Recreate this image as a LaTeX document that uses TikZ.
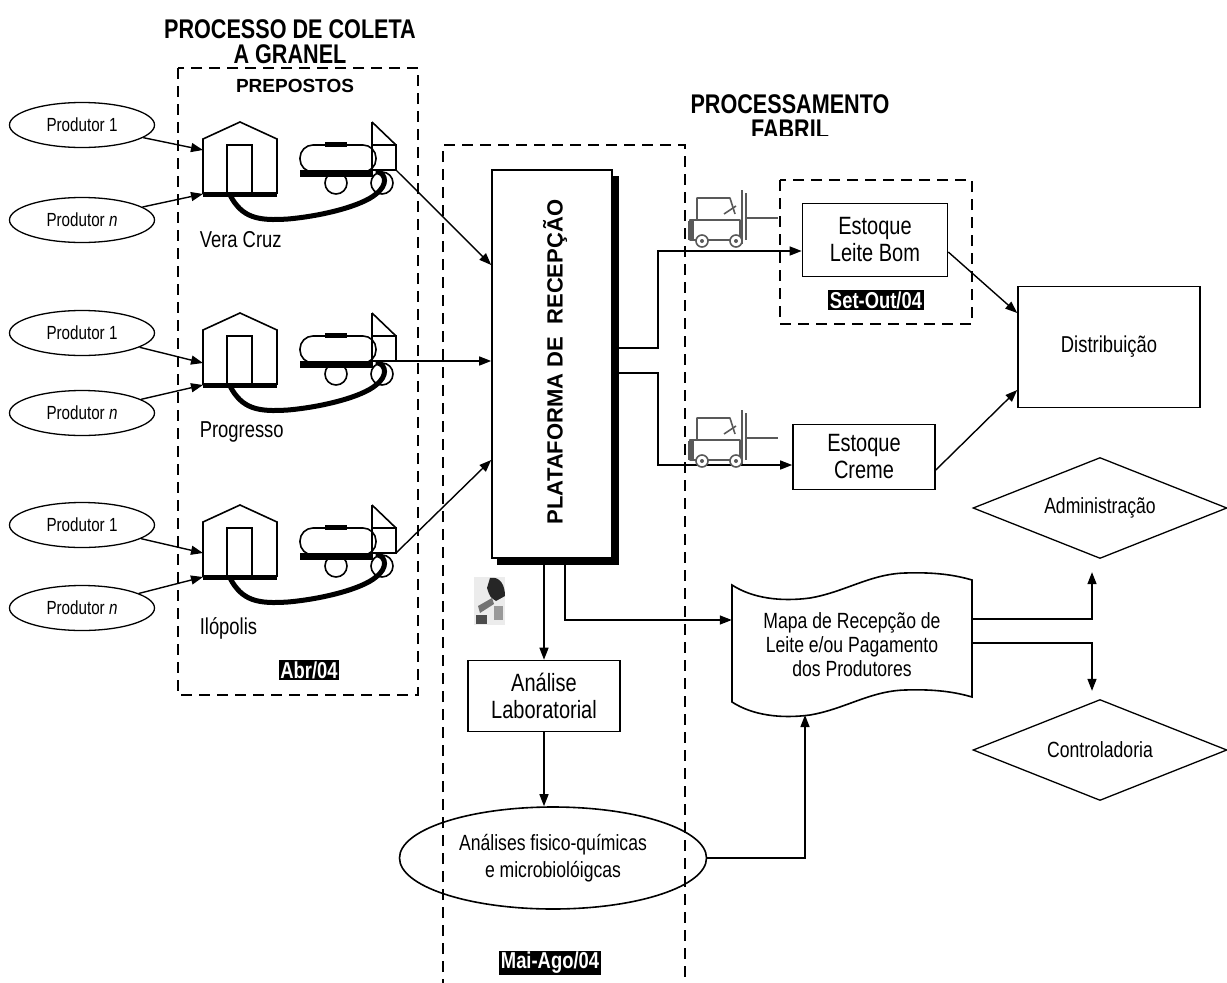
\documentclass[tikz,border=0pt]{standalone}
\usepackage{fontspec}
\setmainfont{Liberation Sans}[FakeStretch=0.8]
\newfontfamily\plainsans{Liberation Sans}
\usetikzlibrary{arrows.meta,shapes.geometric,positioning}

\tikzset{
  flow/.style={-{Triangle[length=12pt,width=9pt]}, line width=1.4pt},
  zone/.style={line width=1.8pt, dash pattern=on 11pt off 7pt},
  prod/.style={ellipse, draw, line width=1.3pt, minimum width=145pt, minimum height=45pt,
    inner sep=0pt, font=\fontsize{19}{21}\selectfont},
  proc/.style={rectangle, draw, line width=1.6pt, inner sep=0pt, align=center,
    font=\fontsize{25}{27}\selectfont},
  datetag/.style={fill=black, text=white, inner sep=1.5pt, font=\bfseries\fontsize{23}{25}\selectfont},
  heading/.style={font=\bfseries\fontsize{27}{25}\selectfont, align=center, inner sep=0pt},
  town/.style={anchor=west, inner sep=0pt, font=\fontsize{23}{25}\selectfont},
  thickbar/.style={line width=5pt},
  lift/.style={black!65, line width=1.6pt, line join=round},
  ctrlbox/.style={diamond, draw, line width=1.3pt, aspect=2.5, minimum width=254pt,
    minimum height=101pt, inner sep=0pt, font=\fontsize{22}{24}\selectfont},
}

\begin{document}
\begin{tikzpicture}[x=1pt,y=-1pt]
\useasboundingbox (0,0) rectangle (1227,983);

% titles
\node[heading] (coleta) at (290,42) {PROCESSO DE COLETA\\A GRANEL};
\node[font=\plainsans\bfseries\fontsize{19}{21}\selectfont] (prepostos) at (295,86) {PREPOSTOS};
\begin{scope}
  \clip (680,80) rectangle (900,135);
  \node[heading] (fabril) at (790,117) {PROCESSAMENTO\\FABRIL};
\end{scope}

% producers
\node[prod] (pa1) at (82,125) {Produtor 1};
\node[prod] (pn1) at (82,220) {Produtor \textit{n}};
\node[prod] (pa2) at (82,333) {Produtor 1};
\node[prod] (pn2) at (82,413) {Produtor \textit{n}};
\node[prod] (pa3) at (82,525) {Produtor 1};
\node[prod] (pn3) at (82,608) {Produtor \textit{n}};

% collecting posts: house, tank truck and hose
\foreach \g/\hy/\ay/\town/\ty in {1/122/28/Vera Cruz/240, 2/313/50/Progresso/432, 3/505/48/Ilópolis/628} {
  \begin{scope}[shift={(0,\hy)}, line width=1.6pt]
    \draw (203,17) -- (240,0) -- (277,17) -- (277,71) -- (203,71) -- cycle;
    \draw (227,71) -- (227,23) -- (252,23) -- (252,71);
    \draw[thickbar] (203,72) -- (277,72);
    \draw[rounded corners=13pt] (300,23) rectangle (376,50);
    \fill (300,48) rectangle (373,55);
    \fill (325,20) rectangle (347,25);
    \draw (336,61) circle (11pt);
    \draw (382,61) circle (11pt);
    \draw (372,0) -- (372,48) -- (396,48) -- (396,23) -- (372,23);
    \draw (372,0) -- (396,23);
    \draw[thickbar, line cap=round] (230,73) .. controls (242,96) and (258,99) .. (288,97)
      .. controls (322,94) and (362,84) .. (376,72) .. controls (388,63) and (386,52) .. (378,50);
    \coordinate (hin\g) at (203,\ay);
    \coordinate (hbase\g) at (203,72);
    \coordinate (cab\g) at (396,48);
    \node[town] (town\g) at (199,\ty-\hy) {\town};
  \end{scope}
  \draw[flow] (pa\g) -- (hin\g);
  \draw[flow] (pn\g) -- (hbase\g);
}

% reception platform
\fill (612,176) rectangle (619,565);
\fill (497,558) rectangle (619,565);
\node[draw, fill=white, line width=1.6pt, minimum width=120pt, minimum height=388pt, inner sep=0pt]
  (plat) at (552,364) {};
\node[rotate=90, font=\plainsans\bfseries\fontsize{22}{24}\selectfont] (platlabel) at (555,362)
  {PLATAFORMA DE\ \ RECEPÇÃO};

\draw[flow] (cab1) -- ([yshift=99pt]plat.west);
\draw[flow] (cab2) -- ([yshift=3pt]plat.west);
\draw[flow] (cab3) -- ([yshift=-96pt]plat.west);

% stock, distribution
\node[proc, minimum width=145pt, minimum height=73pt] (leite) at (875,240) {Estoque\\Leite Bom};
\node[proc, minimum width=142pt, minimum height=65pt] (creme) at (864,457) {Estoque\\Creme};
\node[proc, minimum width=182pt, minimum height=121pt, font=\fontsize{23}{25}\selectfont]
  (dist) at (1109,347) {Distribuição};

\draw[flow] ([yshift=16pt]plat.east) -- ++(45,0) |- ([yshift=-11pt]leite.west);
\draw[flow] ([yshift=-9pt]plat.east) -- ++(45,0) |- ([yshift=-8pt]creme.west);
\draw[flow] ([yshift=-12pt]leite.east) -- ([yshift=34pt]dist.west);
\draw[flow] ([yshift=-13pt]creme.east) -- ([yshift=-43pt]dist.west);

% forklifts
\foreach \fy in {190,410} {
  \begin{scope}[shift={(688,\fy)}]
    \draw[lift] (54,0) -- (54,54);
    \draw[lift] (58,3) -- (58,50);
    \draw[lift] (58,28) -- (90,28);
    \draw[lift] (9,30) -- (9,8) -- (42,8) -- (47,24);
    \draw[lift] (36,24) -- (48,16);
    \draw[lift] (2,30) -- (52,30) -- (52,50) -- (2,50) -- cycle;
    \fill[black!65] (0,31) rectangle (6,50);
    \draw[lift, fill=white] (14,51) circle (6pt);
    \draw[lift, fill=white] (48,51) circle (6pt);
    \fill[black!65] (14,51) circle (2pt) (48,51) circle (2pt);
  \end{scope}
}

% laboratory
\fill[gray!15] (474,577) rectangle (505,625);
\fill[black!85] (490,578) .. controls (500,576) and (505,585) .. (505,596) -- (496,601)
  .. controls (490,597) .. (487,588) -- cycle;
\fill[black!55] (478,606) -- (492,598) -- (494,604) -- (480,613) -- cycle;
\fill[black!70] (476,615) rectangle (487,624);
\fill[black!40] (494,606) rectangle (503,620);

\node[proc, minimum width=152pt, minimum height=71pt] (lab) at (544,696) {Análise\\Laboratorial};
\node[ellipse, draw, line width=1.6pt, minimum width=307pt, minimum height=102pt, inner sep=0pt,
  align=center, font=\fontsize{22}{27}\selectfont] (ana) at (553,858)
  {Análises fisico-químicas\\e microbiolóigcas};

\draw[flow] (lab.north |- plat.south) -- (lab.north);
\draw[flow] (lab.south) -- (lab.south |- ana.north);

% payment map
\node[align=center, minimum width=240pt, minimum height=117pt, inner sep=0pt,
  font=\fontsize{22}{24}\selectfont] (mapa) at (852,645)
  {Mapa de Recepção de\\Leite e/ou Pagamento\\dos Produtores};
\draw[line width=1.6pt] (732,702) -- (732,585)
  .. controls (752,598) and (780,602) .. (810,598) .. controls (845,592) and (870,574) .. (905,573)
  .. controls (935,572) and (955,575) .. (972,580) -- (972,697)
  .. controls (955,692) and (935,689) .. (905,690) .. controls (870,691) and (845,709) .. (810,715)
  .. controls (780,719) and (752,715) .. (732,702) -- cycle;
\coordinate (mapabot) at (805,715);

\draw[flow] ([xshift=13pt]plat.south) |- ([yshift=25pt]mapa.west);
\draw[flow] (ana.east) -| (mapabot);

% management
\node[ctrlbox] (admin) at (1100,508) {Administração};
\node[ctrlbox] (ctrl) at (1100,750) {Controladoria};
\draw[flow] ([yshift=26pt]mapa.east) -| ([xshift=-8pt,yshift=-13pt]admin.south);
\draw[flow] ([yshift=2pt]mapa.east) -| ([xshift=-8pt,yshift=8pt]ctrl.north);

% periods
\draw[zone] (178,68) rectangle (418,695);
\draw[zone] (443,990) -- (443,145) -- (685,145) -- (685,990);
\draw[zone] (780,180) rectangle (972,324);
\node[datetag] (abr) at (309,670) {Abr/04};
\node[datetag] (maiago) at (550,963) {Mai-Ago/04};
\node[datetag] (setout) at (876,300) {Set-Out/04};
\end{tikzpicture}
\end{document}
